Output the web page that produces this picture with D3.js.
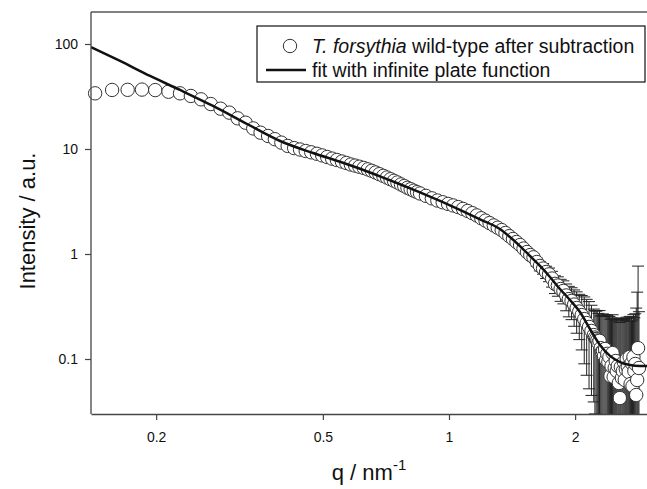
<!DOCTYPE html>
<html>
<head>
<meta charset="utf-8">
<script src="https://cdn.jsdelivr.net/npm/d3@7"></script>
<style>
  body { margin: 0; background: #fff; }
  svg { font-family: Arial, "Liberation Sans", sans-serif; }
</style>
</head>
<body>
<div id="chart"></div>
<script>
// measured points, low q (no visible error bars)
var qLow = [0.143, 0.157, 0.171, 0.185, 0.199, 0.214, 0.228, 0.242, 0.256, 0.270,
    0.285, 0.299, 0.313, 0.327, 0.341, 0.355, 0.370, 0.384, 0.398, 0.412,
    0.427, 0.441, 0.455, 0.469, 0.484, 0.498, 0.512, 0.526, 0.540, 0.555,
    0.569, 0.583, 0.597, 0.611, 0.626, 0.640, 0.654, 0.668, 0.682, 0.697,
    0.711, 0.725, 0.739, 0.753, 0.768, 0.782, 0.796, 0.810, 0.824, 0.839,
    0.853, 0.881, 0.910, 0.938, 0.966, 0.995, 1.023, 1.052, 1.080, 1.108,
    1.137, 1.165, 1.194, 1.222, 1.250, 1.279, 1.307, 1.336, 1.364, 1.393,
    1.421, 1.449];
var iLow = [33.9, 36.5, 36.6, 36.8, 36.4, 35.1, 33.9, 32.0, 29.7, 26.8,
    24.2, 22.2, 19.6, 17.8, 15.7, 14.3, 13.3, 12.4, 11.5, 10.7,
    10.2, 9.89, 9.57, 9.30, 9.00, 8.69, 8.39, 8.10, 7.86, 7.60,
    7.36, 7.12, 6.95, 6.78, 6.60, 6.40, 6.20, 5.98, 5.76, 5.55,
    5.35, 5.16, 4.98, 4.80, 4.60, 4.44, 4.27, 4.14, 4.01, 3.88,
    3.77, 3.58, 3.39, 3.23, 3.11, 3.00, 2.90, 2.80, 2.69, 2.57,
    2.45, 2.33, 2.19, 2.08, 1.97, 1.87, 1.78, 1.69, 1.585, 1.48,
    1.39, 1.30];

// measured points, high q (with error bars)
var qErr = [1.478, 1.506, 1.535, 1.563, 1.591, 1.620, 1.648, 1.677, 1.705, 1.733,
    1.762, 1.790, 1.819, 1.847, 1.875, 1.904, 1.932, 1.961, 1.989, 2.017,
    2.046, 2.074, 2.103, 2.131, 2.159, 2.188, 2.216, 2.230, 2.245, 2.259,
    2.273, 2.287, 2.302, 2.316, 2.330, 2.344, 2.358, 2.372, 2.387, 2.401,
    2.415, 2.429, 2.443, 2.457, 2.472, 2.486, 2.500, 2.514, 2.529, 2.543,
    2.557, 2.571, 2.586, 2.600, 2.614, 2.628, 2.642, 2.656, 2.671, 2.685,
    2.699, 2.713, 2.727, 2.742, 2.756, 2.770, 2.784, 2.798, 2.813, 2.827,
    2.841];
var iErr = [1.218, 1.128, 1.045, 0.978, 0.930, 0.839, 0.770, 0.727, 0.674, 0.640,
    0.584, 0.520, 0.501, 0.464, 0.445, 0.403, 0.372, 0.357, 0.330, 0.306,
    0.283, 0.262, 0.240, 0.220, 0.202, 0.185, 0.169, 0.160, 0.155, 0.150,
    0.142, 0.149, 0.127, 0.117, 0.119, 0.107, 0.1245, 0.0978, 0.112, 0.0936,
    0.1045, 0.0689, 0.0858, 0.114, 0.0674, 0.0821, 0.0957, 0.0769, 0.0858, 0.0591,
    0.0425, 0.0839, 0.066, 0.0769, 0.0936, 0.0631, 0.0803, 0.100, 0.0839, 0.0752,
    0.1045, 0.0578, 0.0916, 0.0553, 0.1045, 0.0769, 0.0897, 0.0454, 0.0631, 0.127,
    0.0821];
var sdErr = [0.05, 0.055, 0.06, 0.065, 0.07, 0.075, 0.08, 0.085, 0.09, 0.095,
    0.10, 0.10, 0.105, 0.11, 0.11, 0.115, 0.12, 0.12, 0.125, 0.13,
    0.13, 0.14, 0.15, 0.15, 0.15, 0.14, 0.13, 0.13, 0.13, 0.14,
    0.13, 0.14, 0.13, 0.14, 0.15, 0.15, 0.14, 0.16, 0.15, 0.16,
    0.15, 0.17, 0.16, 0.15, 0.17, 0.16, 0.15, 0.16, 0.15, 0.17,
    0.18, 0.16, 0.17, 0.16, 0.15, 0.17, 0.16, 0.15, 0.16, 0.17,
    0.15, 0.17, 0.16, 0.18, 0.16, 0.17, 0.18, 0.26, 0.37, 0.64,
    0.20];

// infinite plate fit
var qFit = [0.1398, 0.1640, 0.1934, 0.2280, 0.2734, 0.3296, 0.3952, 0.4737, 0.5494, 0.6133,
    0.6845, 0.7640, 0.8527, 0.9517, 1.062, 1.186, 1.323, 1.398, 1.477, 1.561,
    1.649, 1.742, 1.840, 1.944, 2.054, 2.170, 2.293, 2.423, 2.559, 2.704,
    2.856, 2.969];
var iFit = [93.6, 68.9, 49.6, 36.5, 25.7, 17.3, 11.92, 9.16, 7.56, 6.48,
    5.49, 4.62, 3.86, 3.20, 2.63, 2.14, 1.73, 1.45, 1.19, 0.957,
    0.769, 0.604, 0.464, 0.365, 0.280, 0.193, 0.136, 0.107, 0.0936, 0.0877,
    0.0858, 0.0858];

var xTicks = [0.2, 0.5, 1, 2];
var xTickLabels = ["0.2", "0.5", "1", "2"];
var yTicks = [0.1, 1, 10, 100];
var yTickLabels = ["0.1", "1", "10", "100"];

var width = 647, height = 489;
var plotLeft = 91, plotRight = 647, plotTop = 12, plotBottom = 414;

var svg = d3.select("#chart").append("svg")
    .attr("width", width)
    .attr("height", height);

var x = d3.scaleLog().domain([0.1398, 2.969]).range([plotLeft, plotRight]);
var y = d3.scaleLog().domain([0.02994, 201.7]).range([plotBottom, plotTop]);

svg.append("defs").append("clipPath")
    .attr("id", "plotclip")
    .append("rect")
    .attr("x", plotLeft).attr("y", plotTop)
    .attr("width", plotRight - plotLeft).attr("height", plotBottom - plotTop);

// top frame line
svg.append("line")
    .attr("x1", plotLeft).attr("x2", width)
    .attr("y1", plotTop).attr("y2", plotTop)
    .attr("stroke", "#808080").attr("stroke-width", 2);

var lowPts = qLow.map(function (q, i) { return { q: q, v: iLow[i] }; });
var errPts = qErr.map(function (q, i) { return { q: q, v: iErr[i], sd: sdErr[i] }; });

// error bars
var bars = svg.append("g")
    .attr("clip-path", "url(#plotclip)")
    .attr("stroke", "#222")
    .attr("stroke-width", 1);

function yLow(d) {
    var lo = d.v - d.sd;
    return lo > 0 ? y(lo) : plotBottom + 5;
}

bars.selectAll(".ebar")
    .data(errPts)
    .enter().append("line")
    .attr("x1", function (d) { return x(d.q); })
    .attr("x2", function (d) { return x(d.q); })
    .attr("y1", function (d) { return y(d.v + d.sd); })
    .attr("y2", yLow);

bars.selectAll(".ecapTop")
    .data(errPts)
    .enter().append("line")
    .attr("x1", function (d) { return x(d.q) - 6; })
    .attr("x2", function (d) { return x(d.q) + 6; })
    .attr("y1", function (d) { return y(d.v + d.sd); })
    .attr("y2", function (d) { return y(d.v + d.sd); });

bars.selectAll(".ecapBot")
    .data(errPts.filter(function (d) { return d.v - d.sd > 0; }))
    .enter().append("line")
    .attr("x1", function (d) { return x(d.q) - 6; })
    .attr("x2", function (d) { return x(d.q) + 6; })
    .attr("y1", yLow)
    .attr("y2", yLow);

// symbols
svg.append("g").selectAll("circle")
    .data(lowPts.concat(errPts))
    .enter().append("circle")
    .attr("cx", function (d) { return x(d.q); })
    .attr("cy", function (d) { return y(d.v); })
    .attr("r", 6.7)
    .attr("fill", "#fff")
    .attr("stroke", "#333")
    .attr("stroke-width", 1);

// fit line
var fitLine = d3.line()
    .x(function (d, i) { return x(qFit[i]); })
    .y(function (d, i) { return y(iFit[i]); })
    .curve(d3.curveMonotoneX);

svg.append("path")
    .datum(qFit)
    .attr("clip-path", "url(#plotclip)")
    .attr("d", fitLine)
    .attr("fill", "none")
    .attr("stroke", "#111")
    .attr("stroke-width", 2.5);

// axes
var xAxis = d3.axisBottom(x)
    .tickValues(xTicks)
    .tickFormat(function (d, i) { return xTickLabels[i]; })
    .tickSize(6).tickSizeOuter(0).tickPadding(12);

var yAxis = d3.axisLeft(y)
    .tickValues(yTicks)
    .tickFormat(function (d, i) { return yTickLabels[i]; })
    .tickSize(6).tickSizeOuter(0).tickPadding(7);

var gx = svg.append("g")
    .attr("transform", "translate(0," + plotBottom + ")")
    .call(xAxis);
var gy = svg.append("g")
    .attr("transform", "translate(" + plotLeft + ",0)")
    .call(yAxis);

[gx, gy].forEach(function (g) {
    g.attr("font-size", null).attr("font-family", null);
    g.select(".domain").attr("stroke", "#444").attr("stroke-width", 1.3);
    g.selectAll(".tick line").attr("stroke", "#444").attr("stroke-width", 1.2);
    g.selectAll(".tick text")
        .attr("fill", "#111")
        .style("font-size", "14px");
});
gy.select(".domain").attr("d", "M0," + plotTop + "V" + plotBottom);

// axis titles
svg.append("text")
    .attr("transform", "translate(27,221) rotate(-90)")
    .attr("text-anchor", "middle")
    .attr("dy", "0.35em")
    .style("font-size", "22px")
    .attr("fill", "#111")
    .text("Intensity / a.u.");

var xt = svg.append("text")
    .attr("x", 369).attr("y", 480)
    .attr("text-anchor", "middle")
    .style("font-size", "22px")
    .attr("fill", "#111");
xt.append("tspan").text("q / nm");
xt.append("tspan").attr("dy", -10).style("font-size", "15px").text("-1");

// legend
var lg = svg.append("g");
lg.append("rect")
    .attr("x", 257).attr("y", 26)
    .attr("width", 388).attr("height", 56)
    .attr("fill", "#fff")
    .attr("stroke", "#111")
    .attr("stroke-width", 1.2);

lg.append("circle")
    .attr("cx", 290).attr("cy", 46).attr("r", 6.7)
    .attr("fill", "#fff").attr("stroke", "#333").attr("stroke-width", 1);

var t1 = lg.append("text")
    .attr("x", 312).attr("y", 46).attr("dy", "0.35em")
    .style("font-size", "19.5px").attr("fill", "#111");
t1.append("tspan").style("font-style", "italic").text("T. forsythia");
t1.append("tspan").text(" wild-type after subtraction");

lg.append("line")
    .attr("x1", 266).attr("x2", 306)
    .attr("y1", 70).attr("y2", 70)
    .attr("stroke", "#111").attr("stroke-width", 2.5);

lg.append("text")
    .attr("x", 312).attr("y", 70).attr("dy", "0.35em")
    .style("font-size", "19.5px").attr("fill", "#111")
    .text("fit with infinite plate function");
</script>
</body>
</html>
